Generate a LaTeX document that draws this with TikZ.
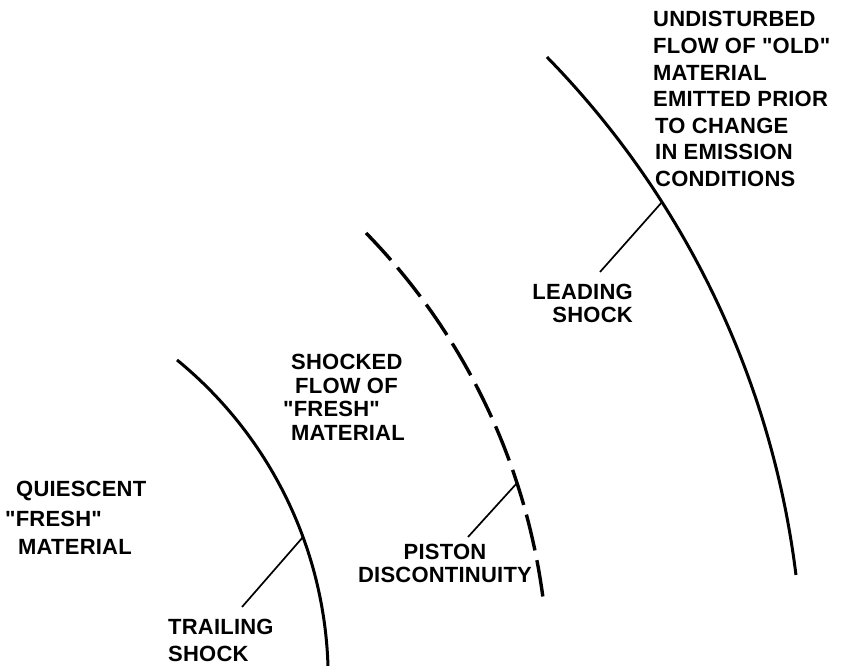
\documentclass[tikz,border=0pt]{standalone}
\usepackage{fontspec}
\newfontfamily\letterfam[LetterSpace=1]{Liberation Sans}
\usetikzlibrary{calc}
\begin{document}
\begin{tikzpicture}[x=1pt,y=1pt,
  shock/.style={line width=3pt},
  pistonline/.style={line width=3.4pt, dash pattern=on 36.8pt off 10pt},
  leader/.style={line width=1.7pt},
  lbl/.style={font=\letterfam\bfseries\fontsize{22}{26}\selectfont, inner sep=0pt, anchor=base west},
  lblr/.style={lbl, anchor=base east},
  lblc/.style={lbl, anchor=base}]
\useasboundingbox (0,0) rectangle (846,666);
\clip (0,0) rectangle (846,666);
% arc centres
\coordinate (cT) at (-83.6,-12.8);
\coordinate (cP) at (-94.4,-15.66);
\coordinate (cL) at (-95.6,-18.73);
% leading shock
\draw[shock] ($(cL)+(44.33:898.3pt)$) arc[start angle=44.33, end angle=7.02, radius=898.3pt];
% piston discontinuity (dashed)
\draw[pistonline] ($(cP)+(44.26:642.9pt)$) arc[start angle=44.26, end angle=7.48, radius=642.9pt];
% trailing shock
\draw[shock] ($(cT)+(50.74:411.8pt)$) arc[start angle=50.74, end angle=-0.5, radius=411.8pt];
% leader lines
\coordinate (mL) at ($(cL)+(32.5:898.3pt)$);
\coordinate (eL) at (600,394);
\coordinate (mP) at ($(cP)+(18.0:642.9pt)$);
\coordinate (eP) at (468,129);
\coordinate (mT) at ($(cT)+(20.14:411.8pt)$);
\coordinate (eT) at (242,59);
\draw[leader] (mL) -- (eL);
\draw[leader] (mP) -- (eP);
\draw[leader] (mT) -- (eT);
% undisturbed flow
\node[lbl] (u1) at (653,639) {UNDISTURBED};
\node[lbl] (u2) at (653,612.4) {FLOW OF "OLD"};
\node[lbl] (u3) at (653,585.8) {MATERIAL};
\node[lbl] (u4) at (653,559.2) {EMITTED PRIOR};
\node[lbl] (u5) at (655,532.6) {TO CHANGE};
\node[lbl] (u6) at (655,506) {IN EMISSION};
\node[lbl] (u7) at (655,479.4) {CONDITIONS};
% leading shock label
\node[lblr] (l1) at (633,366) {LEADING};
\node[lblr] (l2) at (633,343) {SHOCK};
% shocked flow
\node[lbl] (s1) at (291,296) {SHOCKED};
\node[lbl] (s2) at (295,272) {FLOW OF};
\node[lbl] (s3) at (283,249) {"FRESH"};
\node[lbl] (s4) at (291,225) {MATERIAL};
% quiescent
\node[lbl] (q1) at (16,169) {QUIESCENT};
\node[lbl] (q2) at (5,139) {"FRESH"};
\node[lbl] (q3) at (18,111) {MATERIAL};
% trailing shock label
\node[lbl] (t1) at (168,31) {TRAILING};
\node[lbl] (t2) at (168,4) {SHOCK};
% piston label
\node[lblc] (p1) at (445,106) {PISTON};
\node[lblc] (p2) at (445,83) {DISCONTINUITY};
\end{tikzpicture}
\end{document}
